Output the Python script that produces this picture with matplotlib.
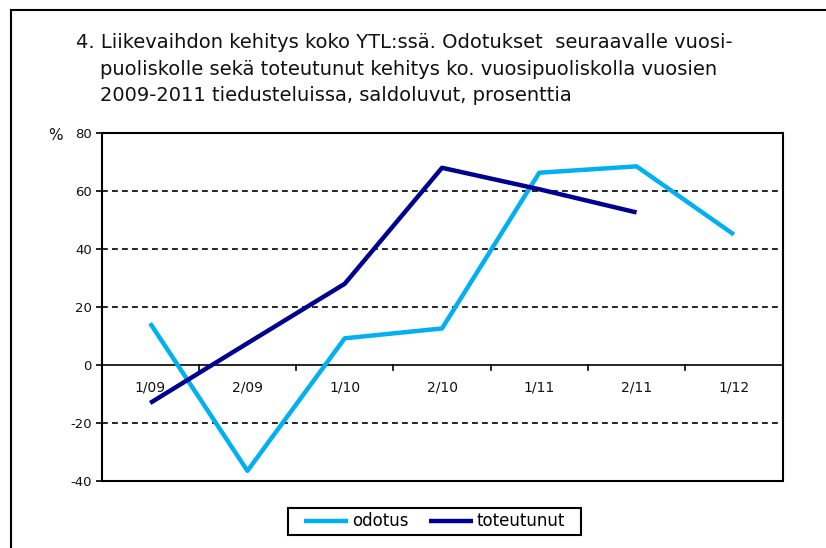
import matplotlib
matplotlib.use("Agg")
import matplotlib.pyplot as plt
from matplotlib.lines import Line2D
from matplotlib.patches import Rectangle

categories = ["1/09", "2/09", "1/10", "2/10", "1/11", "2/11", "1/12"]
odotus = [14.4, -36.5, 9.2, 12.6, 66.3, 68.5, 45.0]
toteutunut = [-13.1, 7.5, 28.0, 68.0, 60.6, 52.6]
yticks = [-40, -20, 0, 20, 40, 60, 80]

plt.rcParams['font.family'] = ['DejaVu Sans']

W, H = 826, 548
fig = plt.figure(figsize=(W / 100, H / 100), dpi=100)

# outer frame (top and left visible)
fig.add_artist(Line2D([11 / W, 11 / W], [0, 1 - 10 / H], transform=fig.transFigure, color='black', lw=1.5))
fig.add_artist(Line2D([11 / W, 1], [1 - 10 / H, 1 - 10 / H], transform=fig.transFigure, color='black', lw=1.5))

title_lines = [
    ("4. Liikevaihdon kehitys koko YTL:ssä. Odotukset  seuraavalle vuosi-", 76, 48),
    ("puoliskolle sekä toteutunut kehitys ko. vuosipuoliskolla vuosien", 100, 75),
    ("2009-2011 tiedusteluissa, saldoluvut, prosenttia", 100, 101),
]
for t, x, y in title_lines:
    fig.text(x / W, 1 - y / H, t, fontsize=14, va='baseline', ha='left', color='#111111')

left, right, top, bottom = 101.5, 782.5, 133, 481
ax = fig.add_axes([left / W, 1 - bottom / H, (right - left) / W, (bottom - top) / H])

n = len(categories)
xs = list(range(n))
ax.set_xlim(-0.5, n - 0.5)
ax.set_ylim(-40, 80)

for y in yticks:
    if y == 0:
        ax.axhline(0, color='black', lw=1.2, zorder=2)
    else:
        ax.axhline(y, color='black', lw=1.2, ls=(0, (3.5, 2.5)), zorder=1)

ax.plot(xs, odotus, color='#00B0F0', lw=3.2, solid_capstyle='butt', label='odotus', zorder=3)
ax.plot(xs[:len(toteutunut)], toteutunut, color='#000090', lw=3.2, solid_capstyle='butt', label='toteutunut', zorder=4)

ax.set_yticks(yticks)
ax.set_yticklabels([str(v) for v in yticks], fontsize=9.5, color='#111111')
ax.tick_params(axis='y', direction='out', length=4, width=1.2, pad=3)
ax.set_xticks([])
for s in ax.spines.values():
    s.set_linewidth(1.5)
    s.set_color('black')

# category boundary ticks on zero line
for b in range(1, n):
    ax.plot([b - 0.5, b - 0.5], [0, -1.6], color='black', lw=1.2, zorder=2, clip_on=False)
for i, c in enumerate(categories):
    ax.text(i, -7.8, c, ha='center', va='center', fontsize=10, color='#111111')

fig.text(55.5 / W, 1 - 136 / H, "%", fontsize=11, ha='center', va='center', color='#111111')

leg = fig.legend(loc='center', bbox_to_anchor=(434.5 / W, 1 - 521.5 / H), ncol=2, frameon=False,
                 fontsize=12, handlelength=2.65,
                 handletextpad=0.2, columnspacing=1.25, borderpad=0.3)
# legend box
lx0, lx1, ly0, ly1 = 288, 581, 508, 535
fig.add_artist(Rectangle((lx0 / W, 1 - ly1 / H), (lx1 - lx0) / W, (ly1 - ly0) / H,
                         transform=fig.transFigure, fill=False, edgecolor='black', lw=1.5))

fig.savefig("out.png", dpi=100)
